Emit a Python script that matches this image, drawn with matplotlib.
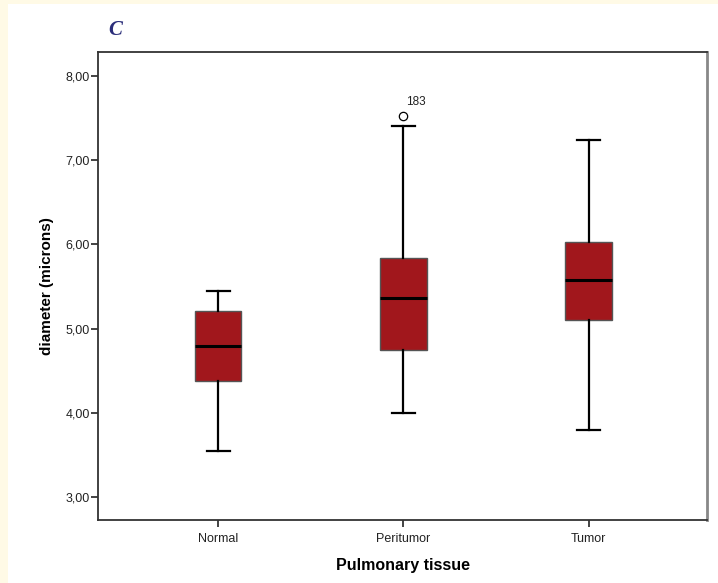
import matplotlib
matplotlib.use("Agg")
import matplotlib.pyplot as plt
from matplotlib.patches import Rectangle

# values
groups = ["Normal", "Peritumor", "Tumor"]
whisker_low = [3.55, 4.00, 3.80]
q1 = [4.38, 4.75, 5.10]
median = [4.79, 5.36, 5.58]
q3 = [5.21, 5.84, 6.03]
whisker_high = [5.45, 7.41, 7.24]
outliers = [[], [7.52], []]
outlier_ids = [[], ["183"], []]

yticks = [3, 4, 5, 6, 7, 8]
ytick_labels = ["3,00", "4,00", "5,00", "6,00", "7,00", "8,00"]

plt.rcParams['font.family'] = ['Liberation Sans', 'DejaVu Sans']

fig = plt.figure(figsize=(7.18, 5.83), dpi=100)
W, H = 718, 583

# pale cream frame strips on left and top
fig.patches.append(Rectangle((0, 0), 8 / W, 1, transform=fig.transFigure,
                             facecolor="#FFFAE6", edgecolor="none", zorder=0))
fig.patches.append(Rectangle((0, 1 - 4 / H), 1, 4 / H, transform=fig.transFigure,
                             facecolor="#FFFAE6", edgecolor="none", zorder=0))

ax = fig.add_axes([98 / W, 1 - 520 / H, 609 / W, 468 / H])

stats = []
for i, g in enumerate(groups):
    stats.append(dict(label=g, whislo=whisker_low[i], q1=q1[i], med=median[i],
                      q3=q3[i], whishi=whisker_high[i], fliers=outliers[i]))

ax.bxp(stats, positions=range(len(groups)), widths=0.25, patch_artist=True,
       boxprops=dict(facecolor="#A1171C", edgecolor="#555555", linewidth=1.0),
       medianprops=dict(color="black", linewidth=2.2),
       whiskerprops=dict(color="black", linewidth=1.6),
       capprops=dict(color="black", linewidth=1.6),
       flierprops=dict(marker="o", markerfacecolor="white", markeredgecolor="black",
                       markersize=6, markeredgewidth=0.9))

for i, pts in enumerate(outliers):
    for v, lab in zip(pts, outlier_ids[i]):
        ax.annotate(lab, (i, v), xytext=(2, 8), textcoords="offset points",
                    fontsize=8.5, color="#222222")

ax.set_xlim(-0.65, 2.64)
ax.set_ylim(2.727, 8.285)
ax.set_yticks(yticks)
ax.set_yticklabels(ytick_labels)
ax.set_xticks(range(len(groups)))
ax.set_xticklabels(groups)
ax.tick_params(axis="both", labelsize=9, colors="#222222", length=5, width=1.2)
ax.tick_params(axis="y", pad=1)
ax.tick_params(axis="x", pad=4)

for side in ["left", "bottom", "top"]:
    ax.spines[side].set_color("#333333")
    ax.spines[side].set_linewidth(1.3)
ax.spines["right"].set_color("#888888")
ax.spines["right"].set_linewidth(2.0)

ax.set_ylabel("diameter (microns)", fontsize=11, fontweight="bold", labelpad=8)
ax.set_xlabel("Pulmonary tissue", fontsize=11.5, fontweight="bold", labelpad=10)

fig.text(115 / W, 1 - 30 / H, "C", family="Liberation Serif", style="italic",
         fontweight="bold", fontsize=15, color="#2B2E7A", ha="center", va="center")

fig.savefig("out.png", dpi=100)
